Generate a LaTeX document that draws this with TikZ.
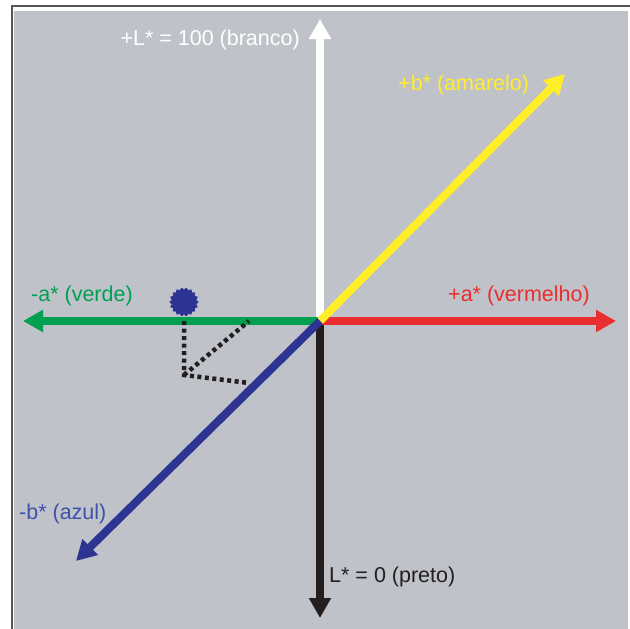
\documentclass[tikz,border=0pt]{standalone}
\usepackage{fontspec}
\setmainfont{Liberation Sans}
\usetikzlibrary{arrows.meta,shapes.geometric}
\definecolor{panel}{RGB}{191,194,201}
\definecolor{framegray}{RGB}{85,85,85}
\definecolor{cgreen}{RGB}{0,160,80}
\definecolor{cred}{RGB}{234,45,46}
\definecolor{cyellow}{RGB}{255,238,40}
\definecolor{cblue}{RGB}{46,52,146}
\definecolor{cbluetext}{RGB}{62,82,170}
\definecolor{cblack}{RGB}{35,31,32}
\begin{document}
\begin{tikzpicture}[x=1pt,y=-1pt,
  axis/.style={line width=8pt,-{Triangle[length=20pt,width=21pt]}},
  lbl/.style={font=\fontsize{21.5}{25}\selectfont, inner sep=0pt},
  dotline/.style={cblack, line width=4.5pt, dash pattern=on 4pt off 3.5pt}]
\useasboundingbox (0,0) rectangle (630,629);
\fill[panel] (14,11) rectangle (628,629);
\draw[framegray, line width=2pt] (12,629) -- (12,5.5) -- (630,5.5);

\coordinate (O) at (320,321);
\coordinate (Ltop) at (320,19);
\coordinate (Lbot) at (320,618);
\coordinate (Apos) at (616,321);
\coordinate (Aneg) at (23,321);
\coordinate (Bpos) at (565,74);
\coordinate (Bneg) at (76,561);

\draw[axis, white] (O) -- (Ltop);
\draw[axis, cblack] (O) -- (Lbot);
\draw[axis, cgreen] (O) -- (Aneg);
\draw[axis, cred] (O) -- (Apos);
\draw[axis, cyellow] (O) -- (Bpos);
\draw[axis, cblue] (O) -- (Bneg);

% point and projections
\coordinate (Pa) at (184,321);
\coordinate (Pc) at (184,375);
\coordinate (Pd) at (249,321);
\coordinate (Pe) at (249,383);
\draw[dotline] (Pa) -- (Pc) -- (Pe);
\draw[dotline] (Pc) -- (Pd);
\node[star, star points=18, star point ratio=0.85, minimum size=25pt, inner sep=0pt, fill=cblue] (P) at (184,302) {};

\node[lbl, white, anchor=east] (lblL) at (300,40) {+L* = 100 (branco)};
\node[lbl, cyellow, anchor=west] (lblB) at (398,85) {+b* (amarelo)};
\node[lbl, cgreen, anchor=west] (lblAn) at (31,296) {-a* (verde)};
\node[lbl, cred, anchor=west] (lblAp) at (448,296) {+a* (vermelho)};
\node[lbl, cbluetext, anchor=west] (lblBn) at (19,514) {-b* (azul)};
\node[lbl, cblack, anchor=west] (lblLb) at (329,577) {L* = 0 (preto)};
\end{tikzpicture}
\end{document}
